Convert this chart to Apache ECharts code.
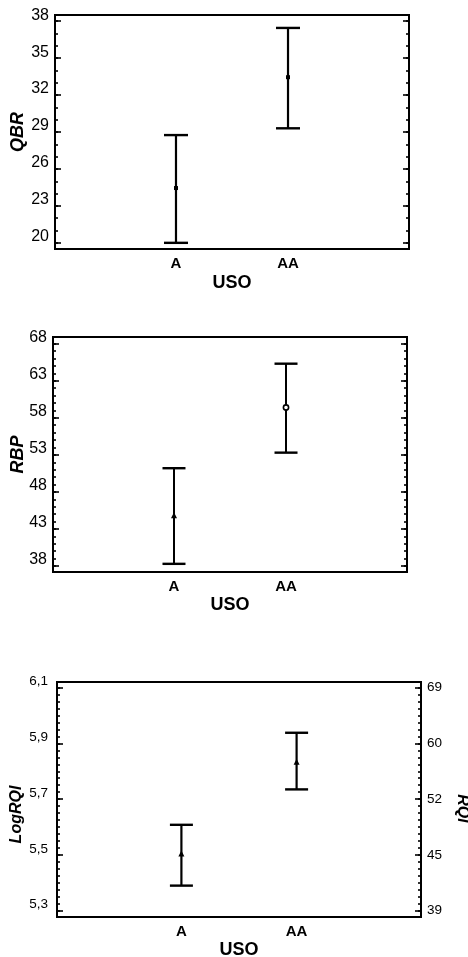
<!DOCTYPE html>
<html><head><meta charset="utf-8">
<script src="https://cdn.jsdelivr.net/npm/echarts@6/dist/echarts.min.js"></script>
<style>html,body{margin:0;padding:0;background:#fff}#c{width:468px;height:957px}</style>
</head><body><div id="c"></div>
<script>
// ---- data ----
const categories = ['A', 'AA'];
const catPos = [1, 2];

const qbrLow  = [20.0, 29.3];
const qbrMean = [24.45, 33.45];
const qbrHigh = [28.75, 37.45];
const qbrTicks = [20, 23, 26, 29, 32, 35, 38];

const rbpLow  = [38.3, 53.3];
const rbpMean = [44.8, 59.4];
const rbpHigh = [51.2, 65.3];
const rbpTicks = [38, 43, 48, 53, 58, 63, 68];

const logLow  = [5.39, 5.735];
const logMean = [5.503, 5.832];
const logHigh = [5.608, 5.938];
const logTicks = [5.3, 5.5, 5.7, 5.9, 6.1];
const logTickLabels = ['5,3', '5,5', '5,7', '5,9', '6,1'];
const rqiTickLabels = ['39', '45', '52', '60', '69'];

// ---- helpers ----
function steps(a, b, s) { const out = []; const n = Math.round((b - a) / s); for (let i = 0; i <= n; i++) out.push(+(a + i * s).toFixed(4)); return out; }
const qbrMinor = steps(20, 38, 1);
const rbpMinor = steps(38, 68, 1);
const logMinor = steps(5.3, 6.1, 0.025);

const FONT = 'Liberation Sans, Arial, sans-serif';
const grids = [
  { left: 55, top: 15, width: 354, height: 234 },
  { left: 53, top: 337, width: 354, height: 235 },
  { left: 57, top: 682, width: 364, height: 235 }
].map(g => Object.assign({ show: true, borderColor: '#000', borderWidth: 2, backgroundColor: 'transparent', containLabel: false, outerBoundsMode: 'none' }, g));

const xAxes = [0, 1, 2].map(gi => ({
  type: 'value', gridIndex: gi, min: -0.08, max: 3.08,
  axisLine: { show: false, onZero: false }, axisTick: { show: false }, splitLine: { show: false },
  axisLabel: {
    customValues: catPos, formatter: v => categories[catPos.indexOf(v)] || '',
    color: '#000', fontFamily: FONT, fontWeight: 'bold', fontSize: 15, margin: 7
  },
  name: 'USO', nameLocation: 'middle', nameGap: gi === 0 ? 25 : 24, nameMoveOverlap: false,
  nameTextStyle: { color: '#000', fontFamily: FONT, fontWeight: 'bold', fontSize: 18 }
}));

function yMajor(gi, min, max, pos, ticks, labelFmt, labelSize, labelMargin, name, nameGap, nameSize, nameRotate, namePad, vAlign) {
  return {
    type: 'value', gridIndex: gi, min: min, max: max, position: pos, offset: 0,
    axisLine: { show: true, onZero: false, lineStyle: { color: '#000', width: 2 } }, splitLine: { show: false },
    axisTick: { show: true, inside: true, length: 6, customValues: ticks, lineStyle: { color: '#000', width: 1.6 } },
    axisLabel: labelFmt ? {
      show: true, customValues: ticks, formatter: labelFmt, color: '#000', fontFamily: FONT,
      fontSize: labelSize, margin: labelMargin,
      verticalAlign: vAlign, lineHeight: 12
    } : { show: false },
    name: name || '', nameLocation: 'middle', nameGap: nameGap || 0, nameRotate: nameRotate, nameMoveOverlap: false,
    nameTextStyle: { color: '#000', fontFamily: FONT, fontWeight: 'bold', fontStyle: 'italic', fontSize: nameSize || 18, padding: namePad || 0 }
  };
}
function yMinor(gi, min, max, pos, ticks) {
  return {
    type: 'value', gridIndex: gi, min: min, max: max, position: pos, offset: 0,
    axisLine: { show: false, onZero: false }, splitLine: { show: false },
    axisTick: { show: true, inside: true, length: 3, customValues: ticks, lineStyle: { color: '#000', width: 1.6 } },
    axisLabel: { show: false }
  };
}

const yAxes = [
  // chart 1 (indices 0-3)
  yMajor(0, 19.5, 38.5, 'left', qbrTicks, v => String(v), 16, 6, 'QBR', 28, 18, 90, 0, 'bottom'),
  yMinor(0, 19.5, 38.5, 'left', qbrMinor),
  yMajor(0, 19.5, 38.5, 'right', qbrTicks, null),
  yMinor(0, 19.5, 38.5, 'right', qbrMinor),
  // chart 2 (indices 4-7)
  yMajor(1, 37.2, 68.9, 'left', rbpTicks, v => String(v), 16, 6, 'RBP', 26, 18, 90, 0, 'bottom'),
  yMinor(1, 37.2, 68.9, 'left', rbpMinor),
  yMajor(1, 37.2, 68.9, 'right', rbpTicks, null),
  yMinor(1, 37.2, 68.9, 'right', rbpMinor),
  // chart 3 (indices 8-11)
  yMajor(2, 5.2775, 6.12, 'left', logTicks, v => logTickLabels[logTicks.indexOf(+v.toFixed(1))], 13.5, 9, 'LogRQI', 32, 16, 90, [0, 30, 0, 0], 'bottom'),
  yMinor(2, 5.2775, 6.12, 'left', logMinor),
  yMajor(2, 5.2775, 6.12, 'right', logTicks, v => rqiTickLabels[logTicks.indexOf(+v.toFixed(1))], 13.5, 6, 'RQI', 33, 16, -90, [0, 0, 0, 18], 'middle'),
  yMinor(2, 5.2775, 6.12, 'right', logMinor)
];

function drawMarker(type, x, y) {
  if (type === 'square') return { type: 'rect', shape: { x: x - 2, y: y - 2, width: 4, height: 4 }, style: { fill: '#000' } };
  if (type === 'triangle') return { type: 'polygon', shape: { points: [[x, y - 3.5], [x - 3, y + 2.5], [x + 3, y + 2.5]] }, style: { fill: '#000' } };
  return { type: 'circle', shape: { cx: x, cy: y, r: 2.6 }, style: { fill: '#fff', stroke: '#000', lineWidth: 1.6 } };
}
function makeRender(markers, lw, capW) {
  return function (params, api) {
    const x = api.value(0);
    const lo = api.coord([x, api.value(1)]);
    const mn = api.coord([x, api.value(2)]);
    const hi = api.coord([x, api.value(3)]);
    const h = capW / 2;
    return {
      type: 'group', children: [
        { type: 'line', shape: { x1: lo[0], y1: lo[1], x2: hi[0], y2: hi[1] }, style: { stroke: '#000', lineWidth: lw } },
        { type: 'line', shape: { x1: lo[0] - h, y1: lo[1], x2: lo[0] + h, y2: lo[1] }, style: { stroke: '#000', lineWidth: 2.4 } },
        { type: 'line', shape: { x1: hi[0] - h, y1: hi[1], x2: hi[0] + h, y2: hi[1] }, style: { stroke: '#000', lineWidth: 2.4 } },
        drawMarker(markers[params.dataIndex], mn[0], mn[1])
      ]
    };
  };
}
function buildData(lo, mean, hi) { return categories.map((c, i) => [catPos[i], lo[i], mean[i], hi[i]]); }

const series = [
  { type: 'custom', xAxisIndex: 0, yAxisIndex: 0, data: buildData(qbrLow, qbrMean, qbrHigh), renderItem: makeRender(['square', 'square'], 2.2, 24), encode: { x: 0, y: [1, 2, 3] }, silent: true },
  { type: 'custom', xAxisIndex: 1, yAxisIndex: 4, data: buildData(rbpLow, rbpMean, rbpHigh), renderItem: makeRender(['triangle', 'circle'], 2, 23), encode: { x: 0, y: [1, 2, 3] }, silent: true },
  { type: 'custom', xAxisIndex: 2, yAxisIndex: 8, data: buildData(logLow, logMean, logHigh), renderItem: makeRender(['triangle', 'triangle'], 2.2, 23), encode: { x: 0, y: [1, 2, 3] }, silent: true }
];

const chart = echarts.init(document.getElementById('c'), null, { renderer: 'canvas' });
chart.setOption({ animation: false, backgroundColor: '#fff', grid: grids, xAxis: xAxes, yAxis: yAxes, series: series });
</script>
</body></html>
